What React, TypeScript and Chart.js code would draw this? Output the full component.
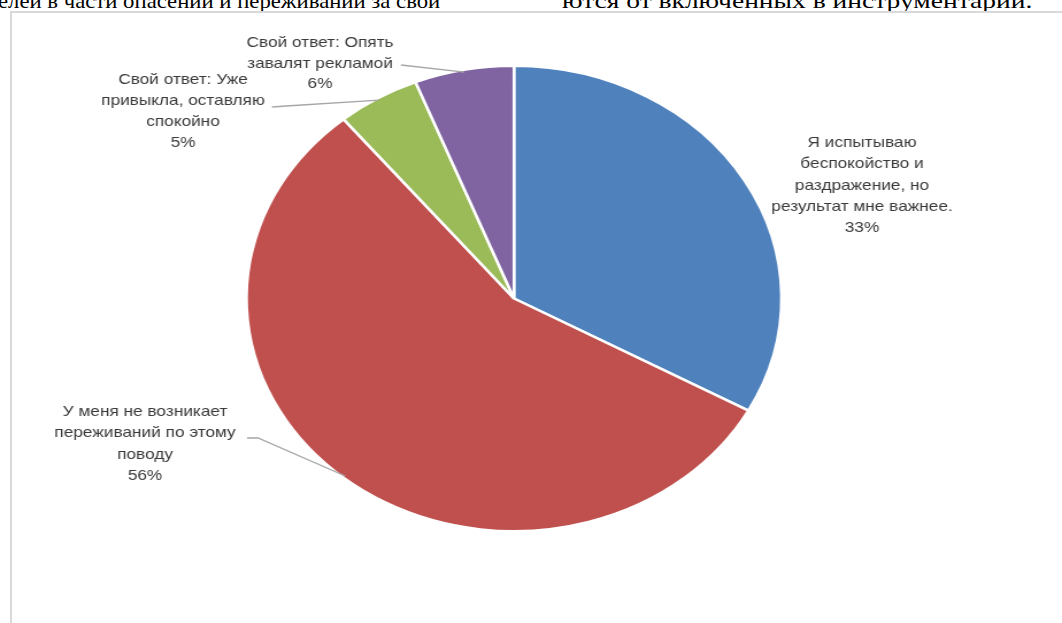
import React, { useEffect, useLayoutEffect, useRef } from "react";
import { Chart, registerables } from "chart.js";

Chart.register(...registerables);

const categories = [
  "Я испытываю беспокойство и раздражение, но результат мне важнее.",
  "У меня не возникает переживаний по этому поводу",
  "Свой ответ: Уже привыкла, оставляю спокойно",
  "Свой ответ: Опять завалят рекламой",
];
const values = [33, 56, 5, 6];
const colors = ["#4F81BD", "#C0504D", "#9BBB59", "#8064A2"];
const labelLines = [
  ["Я испытываю", "беспокойство и", "раздражение, но", "результат мне важнее."],
  ["У меня не возникает", "переживаний по этому", "поводу"],
  ["Свой ответ: Уже", "привыкла, оставляю", "спокойно"],
  ["Свой ответ: Опять", "завалят рекламой"],
];
const topTextLeft = "елей в части опасений и переживаний за свой";
const topTextRight = "ются от включенных в инструментарии.";

const CW = 924;
const CH = 623;
const SX = 1062 / CW;

const labelPlugin = {
  id: "pieLabels",
  afterDatasetsDraw(chart: any) {
    const ctx = chart.ctx as CanvasRenderingContext2D;
    const meta = chart.getDatasetMeta(0);
    const total = values.reduce((a, b) => a + b, 0);
    const layout: { x: number; y: number; lh: number; leader: number[][] | null }[] = [
      { x: 862, y: 143, lh: 21.2, leader: null },
      { x: 145, y: 412, lh: 21.3, leader: [[247, 438], [258, 438]] },
      { x: 183, y: 80, lh: 21, leader: [[272, 107], [286, 106]] },
      { x: 320, y: 43, lh: 20.5, leader: [[401, 65]] },
    ];
    ctx.save();
    meta.data.forEach((arc: any, i: number) => {
      const p = arc.getProps(["x", "y", "startAngle", "endAngle", "outerRadius"], true);
      const mid = (p.startAngle + p.endAngle) / 2;
      const ex = p.x + Math.cos(mid) * p.outerRadius * 0.99;
      const ey = p.y + Math.sin(mid) * p.outerRadius * 0.99;
      const L = layout[i];
      if (L.leader) {
        ctx.beginPath();
        ctx.strokeStyle = "#A6A6A6";
        ctx.lineWidth = 1.3;
        L.leader.forEach(([px, py], k) => {
          if (k === 0) ctx.moveTo(px / SX, py);
          else ctx.lineTo(px / SX, py);
        });
        ctx.lineTo(ex, ey);
        ctx.stroke();
      }
      const lines = [...labelLines[i], Math.round((values[i] / total) * 100) + "%"];
      ctx.fillStyle = "#3a3a3a";
      ctx.font = '15px "Liberation Sans"';
      ctx.textAlign = "center";
      ctx.textBaseline = "middle";
      lines.forEach((t, k) => ctx.fillText(t, L.x / SX, L.y + k * L.lh));
    });
    ctx.restore();
  },
};

const topTextStyle: React.CSSProperties = {
  position: "absolute",
  top: -10,
  fontFamily: '"Liberation Serif", "Times New Roman", serif',
  fontSize: 22,
  lineHeight: "22px",
  whiteSpace: "nowrap",
  color: "#000",
  transformOrigin: "0 0",
};

export default function App() {
  const ref = useRef<HTMLCanvasElement | null>(null);
  const leftRef = useRef<HTMLDivElement | null>(null);
  const rightRef = useRef<HTMLDivElement | null>(null);

  useLayoutEffect(() => {
    const fit = (el: HTMLDivElement | null, target: number) => {
      if (!el) return;
      const w = el.offsetWidth;
      if (w > 0) el.style.transform = `scaleX(${target / w})`;
    };
    fit(leftRef.current, 442);
    fit(rightRef.current, 470);
  }, []);

  useEffect(() => {
    if (!ref.current) return;
    const cx = 514 / SX;
    const r = 234;
    const chart = new Chart(ref.current, {
      type: "pie",
      data: {
        labels: categories,
        datasets: [
          {
            data: values,
            backgroundColor: colors,
            borderColor: "#ffffff",
            borderWidth: 2.5,
          },
        ],
      },
      options: {
        responsive: false,
        animation: false,
        devicePixelRatio: 1,
        layout: {
          padding: {
            left: cx - r,
            right: CW - (cx + r),
            top: 298.5 - r,
            bottom: CH - (298.5 + r),
          },
        },
        plugins: {
          legend: { display: false },
          tooltip: { enabled: false },
        },
      },
      plugins: [labelPlugin],
    });
    return () => chart.destroy();
  }, []);

  return (
    <div
      style={{
        position: "fixed",
        left: 0,
        top: 0,
        width: 1062,
        height: 623,
        overflow: "hidden",
        background: "#ffffff",
      }}
    >
      <div ref={leftRef} style={{ ...topTextStyle, left: -2 }}>{topTextLeft}</div>
      <div ref={rightRef} style={{ ...topTextStyle, left: 562 }}>{topTextRight}</div>
      <div
        style={{
          position: "absolute",
          left: 10,
          top: 11,
          width: 1100,
          height: 700,
          border: "2px solid #D9D9D9",
          boxSizing: "border-box",
        }}
      />
      <canvas
        ref={ref}
        width={CW}
        height={CH}
        style={{
          position: "absolute",
          left: 0,
          top: 0,
          width: CW,
          height: CH,
          transform: `scaleX(${SX})`,
          transformOrigin: "0 0",
        }}
      />
    </div>
  );
}
